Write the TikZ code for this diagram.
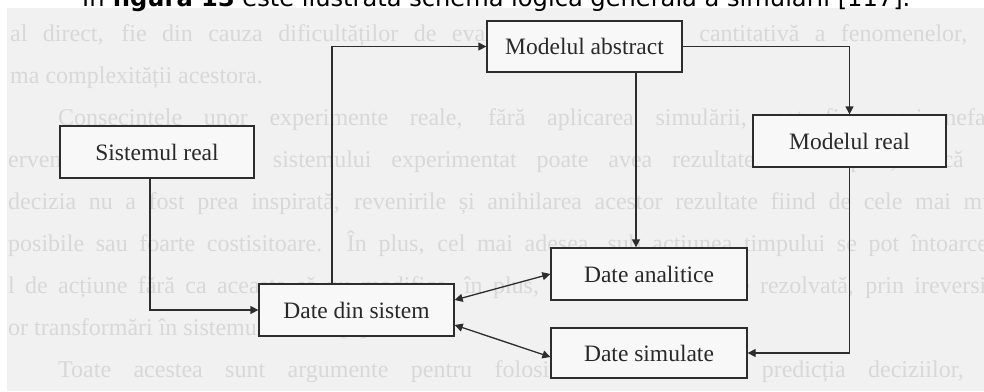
\documentclass[tikz,border=0pt]{standalone}
\usepackage{fontspec}
\usepackage{graphicx}
\setmainfont{Liberation Serif}
\newfontfamily\capfont{DejaVu Sans}
\usetikzlibrary{arrows.meta,calc}
\definecolor{scanbg}{RGB}{241,241,241}
\definecolor{boxbg}{RGB}{248,248,248}
\definecolor{bleed}{RGB}{216,216,216}
\definecolor{ink}{RGB}{45,45,45}
\tikzset{
  box/.style={draw=ink, line width=1.3pt, fill=boxbg, inner sep=0pt,
    font=\fontsize{23.5}{26}\selectfont, text=ink!90!black},
  conn/.style={draw=ink, line width=1.3pt, -{Triangle[length=8pt,width=8pt]}},
  dconn/.style={draw=ink, line width=1.3pt, {Triangle[length=8pt,width=8pt]}-{Triangle[length=8pt,width=8pt]}},
  bleedtxt/.style={anchor=base west, inner sep=0pt, text=bleed, font=\fontsize{24}{28}\selectfont}
}
\begin{document}
\begin{tikzpicture}[x=1pt,y=-1pt]
\useasboundingbox (0,0) rectangle (984,391);
\fill[white] (0,0) rectangle (984,391);
\fill[scanbg] (7,8) rectangle (984,391);
% faint show-through text of the scanned page
\begin{scope}
\clip (7,8) rectangle (984,391);
\node[bleedtxt] (b1) at (10,41) {\makebox[1000pt][s]{al direct, fie din cauza dificultăților de evaluare calitativă sau cantitativă a fenomenelor, fie}};
\node[bleedtxt] (b2) at (10,83) {ma complexității acestora.};
\node[bleedtxt] (b3) at (58,125) {\makebox[960pt][s]{Consecințele unor experimente reale, fără aplicarea simulării, pot fi uneori nefaste,}};
\node[bleedtxt] (b4) at (8,167) {\makebox[1010pt][s]{ervenția directă asupra sistemului experimentat poate avea rezultate neanticipate, dacă acți}};
\node[bleedtxt] (b5) at (8,209) {\makebox[1010pt][s]{decizia nu a fost prea inspirată, revenirile și anihilarea acestor rezultate fiind de cele mai multe}};
\node[bleedtxt] (b6) at (8,251) {\makebox[1010pt][s]{posibile sau foarte costisitoare. În plus, cel mai adesea, sub acțiunea timpului se pot întoarce di}};
\node[bleedtxt] (b7) at (8,293) {\makebox[1010pt][s]{l de acțiune fără ca aceasta să nu modifice, în plus, problema ce trebuie rezolvată, prin ireversibili}};
\node[bleedtxt] (b8) at (8,335) {or transformări în sistemul studiat [4].};
\node[bleedtxt] (b9) at (58,377) {\makebox[960pt][s]{Toate acestea sunt argumente pentru folosirea modelelor în predicția deciziilor, ale}};
\end{scope}
% caption line cut by the top edge
\begin{scope}
\clip (0,0) rectangle (984,391);
\node[anchor=base west, inner sep=0pt] (cap) at (82,6)
  {\resizebox{828pt}{!}{\capfont În \textbf{figura 13} este ilustrată schema logică generală a simulării [117].}};
\end{scope}
% boxes
\node[box, minimum width=195pt, minimum height=51pt] (ma) at (584.5,46.5) {Modelul abstract};
\node[box, minimum width=194pt, minimum height=52pt] (sr) at (157,152) {Sistemul real};
\node[box, minimum width=193pt, minimum height=52pt] (mr) at (849.5,141) {Modelul real};
\node[box, minimum width=196pt, minimum height=52pt] (da) at (649,274) {Date analitice};
\node[box, minimum width=196pt, minimum height=50pt] (ds) at (649,353) {Date simulate};
\node[box, minimum width=195pt, minimum height=52pt] (dds) at (356.5,310) {Date din sistem};
% connectors
\draw[conn] ([xshift=-7pt]sr.south) |- (dds.west);
\draw[conn] ([xshift=-24.5pt]dds.north) |- (ma.west);
\draw[conn] (ma.east) -| (mr.north);
\coordinate (mabot) at ([xshift=51.5pt]ma.south);
\draw[conn] (mabot) -- (mabot |- da.north);
\draw[conn] (mr.south) |- (ds.east);
\draw[dconn] ([yshift=10pt]dds.east) -- (da.west);
\draw[dconn] ([yshift=-15pt]dds.east) -- ([yshift=-4pt]ds.west);
\end{tikzpicture}
\end{document}
